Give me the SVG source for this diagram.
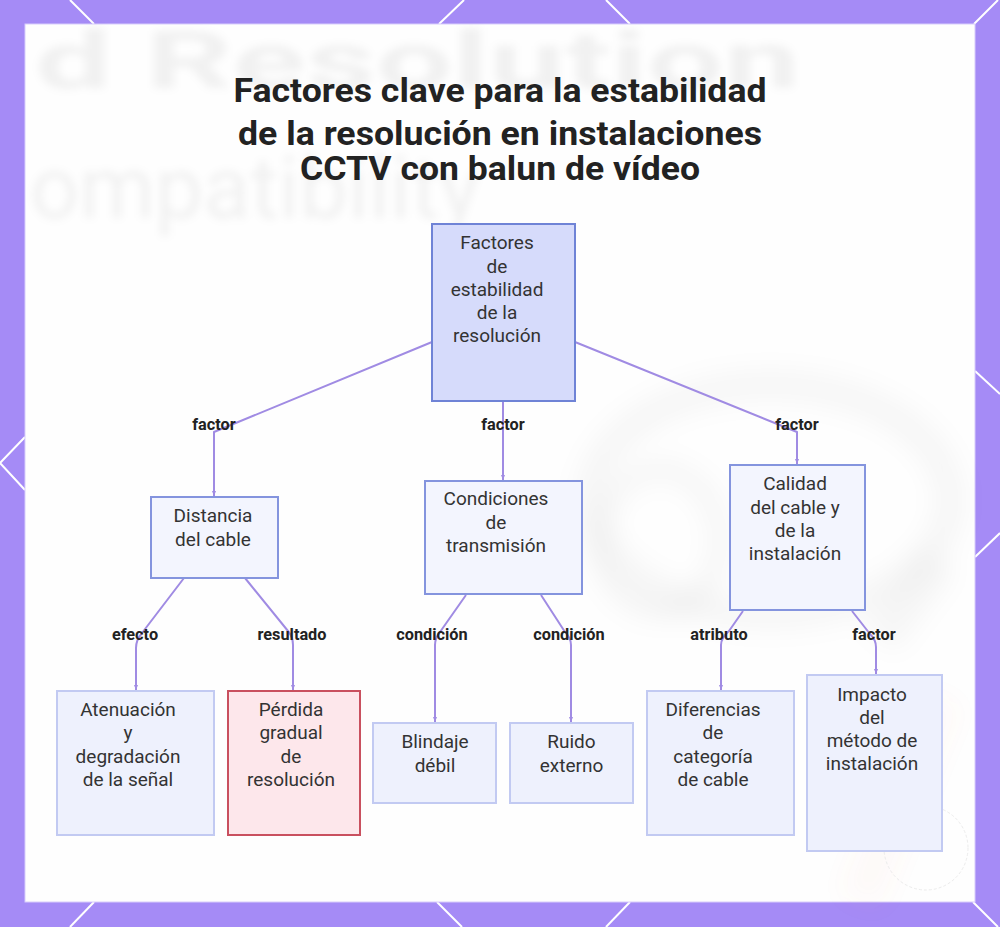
<svg xmlns="http://www.w3.org/2000/svg" width="1000" height="927" viewBox="0 0 1000 927">
<defs>
<style>
.title{font-family:Roboto,"Liberation Sans",sans-serif;font-weight:700;font-size:32.5px;fill:#222;text-anchor:middle}
.nt{font-family:Roboto,"Liberation Sans",sans-serif;font-size:19px;fill:#333;text-anchor:middle}
.lb{font-family:Roboto,"Liberation Sans",sans-serif;font-weight:700;font-size:16.3px;fill:#222;text-anchor:middle}
.wm{font-family:Roboto,"Liberation Sans",sans-serif;fill:#000;fill-opacity:0.05}
.edge{fill:none;stroke:#a08be3;stroke-width:2;stroke-linejoin:round}
.root{fill:#d6dbfb;stroke:#6f83d6;stroke-width:2}
.mid{fill:#f3f5fe;stroke:#8494de;stroke-width:2}
.leaf{fill:#eef1fd;stroke:#c2caf2;stroke-width:2}
.red{fill:#fde7eb;stroke:#c9505f;stroke-width:2}
.deco{stroke:#ffffff;stroke-width:2;fill:none}
</style>
<filter id="blur" x="-20%" y="-20%" width="140%" height="140%"><feGaussianBlur stdDeviation="4"/></filter>
<filter id="blur2" x="-30%" y="-30%" width="160%" height="160%"><feGaussianBlur stdDeviation="12"/></filter>
<marker id="arr" markerWidth="6" markerHeight="6" refX="5" refY="3" orient="auto" markerUnits="userSpaceOnUse">
<path d="M0,1 L5,3 L0,5 Z" fill="#a08be3"/>
</marker>
</defs>

<!-- frame -->
<rect x="0" y="0" width="1000" height="927" fill="#a58bf6"/>
<g class="deco">
<path d="M70,0 L94,24"/><path d="M464,0 L439,24"/><path d="M606,0 L630,24"/><path d="M998,0 L974,24"/>
<path d="M94,902 L70,927"/><path d="M437,902 L462,927"/><path d="M630,902 L606,927"/><path d="M973,902 L998,927"/>
<path d="M25,437 L0,463 L25,490"/>
<path d="M975,371 L1000,394"/><path d="M1000,533 L975,557"/>
</g>
<rect x="25" y="24" width="950" height="878" fill="#fefefe" stroke="#d8cdfb" stroke-width="1"/>

<!-- faded background -->
<g filter="url(#blur)">
<text class="wm" x="35" y="88" font-size="80" font-weight="700" textLength="765" lengthAdjust="spacingAndGlyphs">d Resolution</text>
<text class="wm" x="30" y="218" font-size="88" textLength="450" lengthAdjust="spacingAndGlyphs">ompatibility</text>
</g>
<g filter="url(#blur2)" fill="none" stroke="#000" stroke-opacity="0.03">
<ellipse cx="770" cy="500" rx="180" ry="115" stroke-width="30"/>
<ellipse cx="660" cy="540" rx="60" ry="70" stroke-width="22"/>
<path d="M880,640 L940,560" stroke-width="40"/>
<path d="M860,900 L940,700" stroke="#e07a40" stroke-opacity="0.04" stroke-width="40"/>
</g>
<circle cx="926" cy="848" r="42" fill="none" stroke="#ececec" stroke-width="1" stroke-dasharray="3 2"/>

<!-- title -->
<text class="title" x="500" y="102" textLength="533" lengthAdjust="spacingAndGlyphs">Factores clave para la estabilidad</text>
<text class="title" x="500" y="145" textLength="524" lengthAdjust="spacingAndGlyphs">de la resolución en instalaciones</text>
<text class="title" x="500" y="180" textLength="400" lengthAdjust="spacingAndGlyphs">CCTV con balun de vídeo</text>

<!-- connectors -->
<g id="connectors">
<path class="edge" d="M432,342 L214,432 L214,496" marker-end="url(#arr)"/>
<path class="edge" d="M503,401 L503,480" marker-end="url(#arr)"/>
<path class="edge" d="M575,342 L797,432 L797,464" marker-end="url(#arr)"/>
<path class="edge" d="M184,578 L142,633 Q136,640 136,648 L136,690" marker-end="url(#arr)"/>
<path class="edge" d="M245,578 L288,631 Q293,637 293,645 L293,690" marker-end="url(#arr)"/>
<path class="edge" d="M466,595 L440,632 Q435,638 435,645 L435,722" marker-end="url(#arr)"/>
<path class="edge" d="M541,595 L565,632 Q571,638 571,645 L571,722" marker-end="url(#arr)"/>
<path class="edge" d="M743,611 L729,631 Q721,638 721,645 L721,690" marker-end="url(#arr)"/>
<path class="edge" d="M852,611 L870,634 Q876,640 876,647 L876,674" marker-end="url(#arr)"/>
<text class="lb" x="214" y="429.5">factor</text>
<text class="lb" x="503" y="429.5">factor</text>
<text class="lb" x="797" y="429.5">factor</text>
<text class="lb" x="135" y="639.5">efecto</text>
<text class="lb" x="292" y="639.5">resultado</text>
<text class="lb" x="432" y="639.5">condición</text>
<text class="lb" x="569" y="639.5">condición</text>
<text class="lb" x="719" y="639.5">atributo</text>
<text class="lb" x="874" y="639.5">factor</text>
</g>

<!-- nodes -->
<g id="n-root">
<rect class="root" x="432" y="224" width="143" height="177"/>
<text class="nt" x="497" y="249.3">Factores</text>
<text class="nt" x="497" y="272.5">de</text>
<text class="nt" x="497" y="295.8">estabilidad</text>
<text class="nt" x="497" y="319">de la</text>
<text class="nt" x="497" y="342.2">resolución</text>
</g>
<g id="n-distancia">
<rect class="mid" x="151" y="497" width="127" height="81"/>
<text class="nt" x="213" y="522.3">Distancia</text>
<text class="nt" x="213" y="545.5">del cable</text>
</g>
<g id="n-condiciones">
<rect class="mid" x="425" y="481" width="157" height="113"/>
<text class="nt" x="496" y="505.3">Condiciones</text>
<text class="nt" x="496" y="528.5">de</text>
<text class="nt" x="496" y="551.8">transmisión</text>
</g>
<g id="n-calidad">
<rect class="mid" x="730" y="465" width="135" height="145"/>
<text class="nt" x="795" y="490.3">Calidad</text>
<text class="nt" x="795" y="513.5">del cable y</text>
<text class="nt" x="795" y="536.8">de la</text>
<text class="nt" x="795" y="560">instalación</text>
</g>
<g id="n-atenuacion">
<rect class="leaf" x="57" y="691" width="157" height="144"/>
<text class="nt" x="128" y="716">Atenuación</text>
<text class="nt" x="128" y="739.3">y</text>
<text class="nt" x="128" y="762.6">degradación</text>
<text class="nt" x="128" y="785.9">de la señal</text>
</g>
<g id="n-perdida">
<rect class="red" x="228" y="691" width="132" height="144"/>
<text class="nt" x="291" y="716">Pérdida</text>
<text class="nt" x="291" y="739.3">gradual</text>
<text class="nt" x="291" y="762.6">de</text>
<text class="nt" x="291" y="785.9">resolución</text>
</g>
<g id="n-blindaje">
<rect class="leaf" x="373" y="723" width="123" height="80"/>
<text class="nt" x="435" y="748.3">Blindaje</text>
<text class="nt" x="435" y="771.5">débil</text>
</g>
<g id="n-ruido">
<rect class="leaf" x="510" y="723" width="123" height="80"/>
<text class="nt" x="571.5" y="748.3">Ruido</text>
<text class="nt" x="571.5" y="771.5">externo</text>
</g>
<g id="n-diferencias">
<rect class="leaf" x="647" y="691" width="147" height="144"/>
<text class="nt" x="713" y="716">Diferencias</text>
<text class="nt" x="713" y="739.3">de</text>
<text class="nt" x="713" y="762.6">categoría</text>
<text class="nt" x="713" y="785.9">de cable</text>
</g>
<g id="n-impacto">
<rect class="leaf" x="807" y="675" width="135" height="176"/>
<text class="nt" x="872" y="700.5">Impacto</text>
<text class="nt" x="872" y="723.8">del</text>
<text class="nt" x="872" y="747.1">método de</text>
<text class="nt" x="872" y="770.4">instalación</text>
</g>
</svg>
